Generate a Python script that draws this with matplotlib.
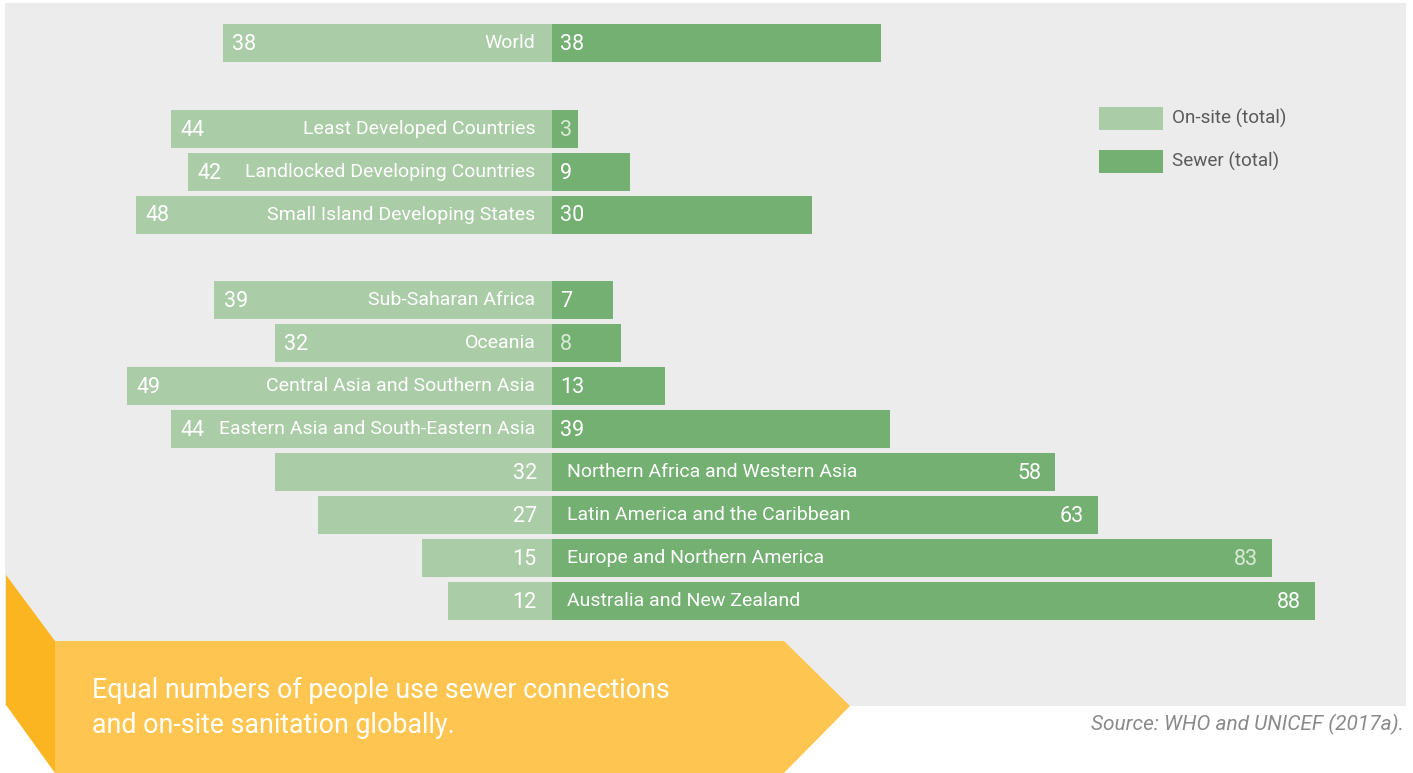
import matplotlib.pyplot as plt
from matplotlib.patches import Polygon, Rectangle

# === Data ===
regions = ["World",
           "Least Developed Countries", "Landlocked Developing Countries",
           "Small Island Developing States",
           "Sub-Saharan Africa", "Oceania", "Central Asia and Southern Asia",
           "Eastern Asia and South-Eastern Asia",
           "Northern Africa and Western Asia", "Latin America and the Caribbean",
           "Europe and Northern America", "Australia and New Zealand"]
onsite = [38, 44, 42, 48, 39, 32, 49, 44, 32, 27, 15, 12]
sewer = [38, 3, 9, 30, 7, 8, 13, 39, 58, 63, 83, 88]
slots = [0, 2, 3, 4, 6, 7, 8, 9, 10, 11, 12, 13]
# sewer labels printed in a paler tint in the original
faint = ["Least Developed Countries", "Oceania", "Europe and Northern America"]

C_ONSITE = "#aacca6"
C_SEWER = "#73b072"
C_BG = "#ececec"
W, H = 1413, 773

plt.rcParams['font.family'] = ['Roboto', 'DejaVu Sans']

fig = plt.figure(figsize=(W / 100, H / 100), dpi=100)
fig.patch.set_facecolor("white")


def fx(px):
    return px / W


def fy(py):
    return 1 - py / H


# gray panel
fig.patches.append(Rectangle((fx(5), fy(706)), fx(1406) - fx(5), fy(3) - fy(706),
                             transform=fig.transFigure, facecolor=C_BG,
                             edgecolor="none", zorder=0))

# === Chart axes (pixel-calibrated scales) ===
ax = fig.add_axes([0, 0, 1, 1], zorder=2)
ax.set_facecolor("none")
unit = 8.67
ax.set_xlim(-552 / unit, (W - 552) / unit)
row = 42.9
ax.set_ylim((H - 43) / row, -43 / row)
ax.axis("off")

bh = 38 / row
ax.barh(slots, [-v for v in onsite], height=bh, color=C_ONSITE, zorder=2)
ax.barh(slots, sewer, height=bh, color=C_SEWER, zorder=2)

fs_name = 14
fs_num = 15.5
for name, o, s, y in zip(regions, onsite, sewer, slots):
    scol = "#d9ead6" if name in faint else "white"
    if s < 50:
        ax.annotate(str(o), (-o, y), xytext=(7, -1), textcoords="offset points",
                    ha="left", va="center", color="white", fontsize=fs_num, zorder=3)
        ax.annotate(name, (0, y), xytext=(-12, 0), textcoords="offset points",
                    ha="right", va="center", color="white", fontsize=fs_name, zorder=3)
        ax.annotate(str(s), (0, y), xytext=(6, -1), textcoords="offset points",
                    ha="left", va="center", color=scol, fontsize=fs_num, zorder=3)
    else:
        ax.annotate(str(o), (0, y), xytext=(-11, -1), textcoords="offset points",
                    ha="right", va="center", color="white", fontsize=fs_num, zorder=3)
        ax.annotate(name, (0, y), xytext=(11, 0), textcoords="offset points",
                    ha="left", va="center", color="white", fontsize=fs_name, zorder=3)
        ax.annotate(str(s), (s, y), xytext=(-10, -1), textcoords="offset points",
                    ha="right", va="center", color=scol, fontsize=fs_num, zorder=3)

# === Legend ===
for label, col, y0 in [("On-site (total)", C_ONSITE, 107), ("Sewer (total)", C_SEWER, 150)]:
    fig.patches.append(Rectangle((fx(1099), fy(y0 + 23)), fx(64), 23 / H,
                                 transform=fig.transFigure, facecolor=col,
                                 edgecolor="none", zorder=1))
    fig.text(fx(1172), fy(y0 + 11), label, ha="left", va="center",
             color="#5a5a5a", fontsize=13.6)

# === Banner ===
dark = Polygon([(fx(6), fy(575)), (fx(55), fy(641)), (fx(55), fy(773)),
                (fx(6), fy(705))], closed=True, transform=fig.transFigure,
               facecolor="#fbb520", edgecolor="none", zorder=4)
light = Polygon([(fx(55), fy(641)), (fx(784), fy(641)), (fx(850), fy(706)),
                 (fx(784), fy(773)), (fx(55), fy(773))], closed=True,
                transform=fig.transFigure, facecolor="#fec650",
                edgecolor="none", zorder=4)
fig.patches.extend([dark, light])
fig.text(fx(92), fy(708), "Equal numbers of people use sewer connections\nand on-site sanitation globally.",
         ha="left", va="center", color="white", fontsize=19.3, linespacing=1.42,
         zorder=5)

fig.text(fx(1404), fy(724), "Source: WHO and UNICEF (2017a).", ha="right",
         va="center", color="#8a8a8a", fontsize=15, style="italic")

fig.savefig("out.png", dpi=100)
